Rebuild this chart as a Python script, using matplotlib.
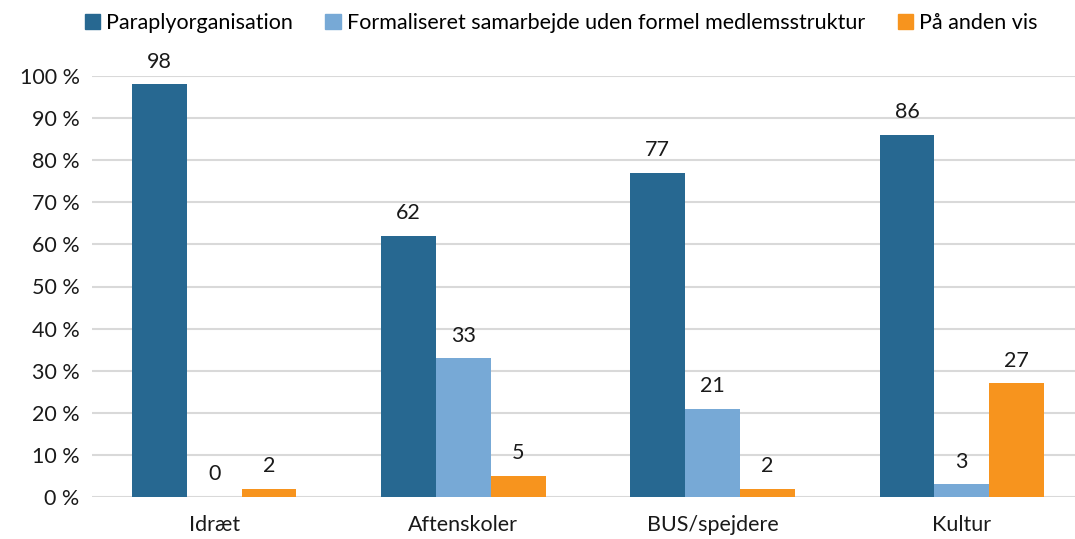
import numpy as np
import matplotlib.pyplot as plt
from matplotlib.patches import Patch
from matplotlib.ticker import FuncFormatter

plt.rcParams['font.family'] = ['Lato', 'DejaVu Sans']

categories = ['Idræt', 'Aftenskoler', 'BUS/spejdere', 'Kultur']
series_names = ['Paraplyorganisation',
                'Formaliseret samarbejde uden formel medlemsstruktur',
                'På anden vis']
paraply = [98, 62, 77, 86]
formaliseret = [0, 33, 21, 3]
anden = [2, 5, 2, 27]
colors = ['#276891', '#77A9D6', '#F7941E']
fs = 15.5

fig = plt.figure(figsize=(10.75, 5.39), dpi=100)
ax = fig.add_axes([92/1075, 42/539, 1 - 92/1075, (497-76)/539])

x = np.arange(len(categories))
w = 0.22
for i, (vals, c) in enumerate(zip([paraply, formaliseret, anden], colors)):
    bars = ax.bar(x + (i - 1) * w, vals, w, color=c, zorder=3)
    for b, v in zip(bars, vals):
        ax.annotate(str(v), (b.get_x() + b.get_width() / 2, v),
                    xytext=(0, 9), textcoords='offset points',
                    ha='center', va='bottom', fontsize=fs,
                    color='#1a1a1a', annotation_clip=False)

ax.set_xlim(-0.49, 3.454)
ax.set_ylim(0, 100)
ax.set_yticks(range(0, 101, 10))
ax.yaxis.set_major_formatter(FuncFormatter(lambda v, p: '%d %%' % v))
ax.set_xticks(x)
ax.set_xticklabels(categories)
ax.tick_params(length=0, labelsize=fs, colors='#1a1a1a')
ax.tick_params(axis='x', pad=13)
ax.tick_params(axis='y', pad=9)
ax.grid(axis='y', color='#D9D9D9', linewidth=1.5, zorder=0)
for s in ax.spines.values():
    s.set_visible(False)

handles = [Patch(color=c) for c in colors]
fig.legend(handles, series_names, loc='center', bbox_to_anchor=(0.522, 0.958),
           ncol=3, frameon=False, fontsize=fs, handlelength=0.7,
           handleheight=0.7, handletextpad=0.3, columnspacing=1.5)

fig.savefig('out.png', dpi=100)
